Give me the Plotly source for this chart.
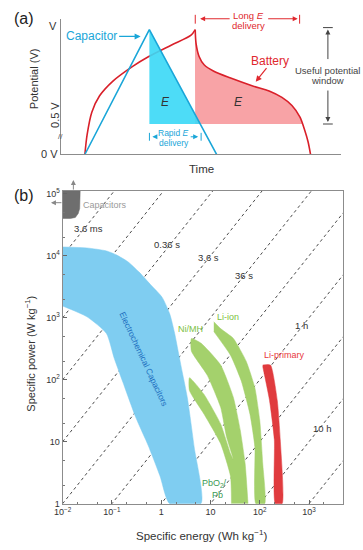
import plotly.graph_objects as go

W, H = 363, 550
FONT = "Arial, Liberation Sans, sans-serif"

# ---------------- Panel (a) data (arbitrary time units, potential fraction of V) ----------------
cap_t = [8.0, 31.2, 55.4]
cap_v = [0.0, 1.0, 0.0]
capfill_t = [31.2, 31.2, 49.5]
capfill_v = [1.0, 0.244, 0.244]
bat_charge_t = [8.0, 8.8, 10.5, 13.3, 18.1, 25.2, 31.0, 39.2, 46.2, 47.7]
bat_charge_v = [0.0, 0.157, 0.339, 0.470, 0.588, 0.706, 0.785, 0.877, 0.955, 1.0]
bat_dis_t = [47.7, 48.0, 49.1, 50.9, 54.4, 60.2, 68.4, 74.3, 78.9, 82.5, 85.4, 87.1, 88.3, 89.2]
bat_dis_v = [1.0, 0.89, 0.785, 0.719, 0.667, 0.614, 0.549, 0.509, 0.457, 0.392, 0.299, 0.194, 0.102, 0.0]
batfill_t = [47.7, 47.7, 48.0, 49.1, 50.9, 54.4, 60.2, 68.4, 74.3, 78.9, 82.5, 85.4, 86.3]
batfill_v = [0.244, 1.0, 0.89, 0.785, 0.719, 0.667, 0.614, 0.549, 0.509, 0.457, 0.392, 0.299, 0.244]

# ---------------- Panel (b) data (Wh/kg, W/kg) ----------------
iso_time_h = [1e-6, 1e-5, 1e-4, 1e-3, 1e-2, 1e-1, 1, 10, 100, 1000]
iso_E_span = [0.01, 5012]

capacitors_E = [0.01, 0.01, 0.0227, 0.0227, 0.0222, 0.0207, 0.0181, 0.0144, 0.01]
capacitors_P = [40100, 112000, 112000, 77400, 57800, 48200, 41600, 40100, 40100]

ec_cap_E = [0.01, 0.0312, 0.0775, 0.122, 0.211, 0.348, 0.601, 1.04, 1.49, 1.88, 2.25, 2.70, 3.39, 4.66, 6.4,
            1.49, 0.946, 0.548, 0.303, 0.168, 0.111, 0.0775, 0.0312, 0.01]
ec_cap_P = [13900, 13400, 12000, 10400, 8030, 5570, 3465, 2154, 1157, 557, 268, 129, 51.8, 8.3, 1,
            1, 2.8, 8.6, 25, 90, 224, 557, 1037, 1550]

nimh_pb_E = [26.7, 25.5, 16.1, 7.43, 3.75, 3.75, 7.43, 16.1, 25.5, 29.2, 21.2, 16.1, 8.53, 4.11, 4.11, 6.49,
             16.1, 29.2, 40.2, 50.5, 57.8]
nimh_pb_P = [1, 2.78, 9.3, 27.8, 66.9, 108, 57.8, 19.3, 6.45, 5.18, 12.0, 35.9, 120, 289, 464, 387,
             173, 51.8, 15.5, 4.48, 1]

liion_E = [11.7, 16.1, 29.2, 52.9, 79.6, 100, 115, 126, 83.4, 79.6, 63.4, 42.1, 25.5, 11.7]
liion_P = [864, 669, 464, 200, 74.6, 22.4, 4.48, 1, 1, 8.3, 27.8, 96.4, 249, 600]

liprim_E = [115, 165, 227, 261, 285, 207, 198, 158, 115]
liprim_P = [173, 173, 46.4, 10.8, 1, 1, 10.8, 46.4, 164]

x_tickvals = [0.01, 0.1, 1, 10, 100, 1000]
x_ticktext = ["10<sup>−2</sup>", "10<sup>−1</sup>", "1", "10", "10<sup>2</sup>", "10<sup>3</sup>"]
y_tickvals = [1, 10, 100, 1000, 10000, 100000]
y_ticktext = ["1", "10", "10<sup>2</sup>", "10<sup>3</sup>", "10<sup>4</sup>", "10<sup>5</sup>"]


def px(x):
    return x / W


def py(y):
    return 1 - y / H


BLUE_LINE = "#1aa6d8"
CYAN_FILL = "rgba(58,216,246,0.9)"
RED = "#d9202a"
PINK = "#f8a3a6"
SKY = "#7fcdf1"
GREEN = "#a4d16c"
LIRED = "#e03b3e"

fig = go.Figure()

# Panel (a)
fig.add_trace(go.Scatter(x=batfill_t, y=batfill_v, fill="toself", fillcolor=PINK, mode="none",
                         line=dict(shape="spline", smoothing=0.8),
                         xaxis="x", yaxis="y", hoverinfo="skip"))
fig.add_trace(go.Scatter(x=bat_charge_t, y=bat_charge_v, mode="lines",
                         line=dict(color=RED, width=1.6, shape="spline", smoothing=0.8),
                         xaxis="x", yaxis="y", hoverinfo="skip"))
fig.add_trace(go.Scatter(x=bat_dis_t, y=bat_dis_v, mode="lines",
                         line=dict(color=RED, width=1.6, shape="spline", smoothing=0.8),
                         xaxis="x", yaxis="y", hoverinfo="skip"))
fig.add_trace(go.Scatter(x=capfill_t, y=capfill_v, fill="toself", fillcolor=CYAN_FILL, mode="none",
                         xaxis="x", yaxis="y", hoverinfo="skip"))
fig.add_trace(go.Scatter(x=cap_t, y=cap_v, mode="lines", line=dict(color=BLUE_LINE, width=1.6),
                         xaxis="x", yaxis="y", hoverinfo="skip"))

# Panel (b)
for t in iso_time_h:
    fig.add_trace(go.Scatter(x=iso_E_span, y=[e / t for e in iso_E_span], mode="lines",
                             line=dict(color="#4a4a4a", width=1, dash="3px,3px"),
                             xaxis="x2", yaxis="y2", hoverinfo="skip"))
for xs, ys, col, sm in [(ec_cap_E, ec_cap_P, SKY, 0.6), (capacitors_E, capacitors_P, "#6e6e6e", 0),
                        (nimh_pb_E, nimh_pb_P, GREEN, 0.5), (liion_E, liion_P, GREEN, 0.5),
                        (liprim_E, liprim_P, LIRED, 0.5)]:
    ln = dict(color=col, width=0.5)
    if sm:
        ln.update(shape="spline", smoothing=sm)
    fig.add_trace(go.Scatter(x=xs, y=ys, fill="toself", fillcolor=col, mode="lines",
                             line=ln, xaxis="x2", yaxis="y2", hoverinfo="skip"))

axcol = "#8c8c8c"
fig.update_layout(
    width=W, height=H, margin=dict(l=0, r=0, t=0, b=0),
    paper_bgcolor="white", plot_bgcolor="white", showlegend=False,
    font=dict(family=FONT, color="#333"),
    xaxis=dict(domain=[px(53), px(340)], range=[-0.70, 100.0], anchor="y",
               showline=True, linecolor=axcol, linewidth=1, showticklabels=False, ticks="",
               showgrid=False, zeroline=False, fixedrange=True),
    yaxis=dict(domain=[py(153), py(15)], range=[0, 1.087], anchor="x",
               showline=True, linecolor=axcol, linewidth=1, showticklabels=False, ticks="",
               showgrid=False, zeroline=False, fixedrange=True),
    xaxis2=dict(type="log", domain=[px(55), px(343)], range=[-2, 3.7], anchor="y2",
                showline=True, linecolor=axcol, linewidth=1, mirror=True,
                ticks="inside", ticklen=4, tickcolor="#666",
                tickvals=x_tickvals, ticktext=x_ticktext, tickfont=dict(size=9, color="#333"),
                showgrid=False, zeroline=False,
                minor=dict(ticks="inside", ticklen=2, tickcolor="#777", showgrid=False)),
    yaxis2=dict(type="log", domain=[py(508), py(190)], range=[0, 5.048], anchor="x2",
                showline=True, linecolor=axcol, linewidth=1, mirror=True,
                ticks="inside", ticklen=4, tickcolor="#666",
                tickvals=y_tickvals, ticktext=y_ticktext, tickfont=dict(size=9, color="#333"),
                showgrid=False, zeroline=False,
                minor=dict(ticks="inside", ticklen=2, tickcolor="#777", showgrid=False)),
)

ann = []


def txt(x, y, s, size=10, color="#333", angle=0, xanchor="center"):
    ann.append(dict(x=px(x), y=py(y), xref="paper", yref="paper", text=s, showarrow=False,
                    font=dict(size=size, color=color, family=FONT), textangle=angle,
                    xanchor=xanchor, yanchor="middle"))


def arrow(hx, hy, tx, ty, color, width=1.2):
    ann.append(dict(x=px(hx), y=py(hy), xref="paper", yref="paper", text="", showarrow=True,
                    ax=tx - hx, ay=ty - hy, axref="pixel", ayref="pixel",
                    arrowhead=2, arrowsize=1, arrowwidth=width, arrowcolor=color))


shapes = []


def seg(x0, y0, x1, y1, color, width=1):
    shapes.append(dict(type="line", xref="paper", yref="paper", x0=px(x0), y0=py(y0),
                       x1=px(x1), y1=py(y1), line=dict(color=color, width=width)))


# Panel (a) texts
txt(15, 15, "(a)", 16, "#222")
txt(45, 22, "V", 11)
txt(47, 113, "0.5 V", 11, angle=-90)
txt(42, 153, "0 V", 11)
txt(53, 135, "//", 8, "#555")
txt(25, 76, "Potential (V)", 11, angle=-90)
txt(197, 168, "Time", 11.5)
txt(85, 33, "Capacitor", 12, BLUE_LINE)
arrow(135, 33, 112, 33, BLUE_LINE)
txt(268, 58, "Battery", 12, "#e0282e")
arrow(253, 79, 265, 64, "#e0282e")
txt(160, 100, "<i>E</i>", 12, "#333")
txt(235, 100, "<i>E</i>", 12, "#333")
txt(246, 11.5, "Long <i>E</i>", 9.5, "#e0282e")
txt(246, 22, "delivery", 9.5, "#e0282e")
arrow(196, 15, 227, 15, "#e0282e", 1)
arrow(296, 15, 265, 15, "#e0282e", 1)
seg(191, 11, 191, 20, "#e0282e")
seg(298, 11, 298, 20, "#e0282e")
txt(169, 131, "Rapid <i>E</i>", 8.5, BLUE_LINE)
txt(169, 141, "delivery", 8.5, BLUE_LINE)
arrow(147, 135, 153, 135, BLUE_LINE, 1)
arrow(194, 135, 185, 135, BLUE_LINE, 1)
seg(144, 131, 144, 139, BLUE_LINE)
seg(197, 131, 197, 139, BLUE_LINE)
txt(327, 68, "Useful potential", 9.5, "#444")
txt(327, 78, "window", 9.5, "#444")
arrow(327, 26, 327, 57, "#444", 1)
arrow(327, 120, 327, 87, "#444", 1)
seg(322, 24, 332, 24, "#444")
seg(322, 122, 332, 122, "#444")

# Panel (b) texts
txt(15, 195, "(b)", 16, "#222")
txt(22, 355, "Specific power (W kg<sup>−1</sup>)", 11, "#333", angle=-90)
txt(197, 540, "Specific energy (Wh kg<sup>−1</sup>)", 11.5, "#333")
txt(98, 204, "Capacitors", 9, "#9a9a9a")
arrow(66, 179, 66, 190, "#888", 1)
arrow(43, 202, 55, 202, "#888", 1)
txt(82, 228, "3.6 ms", 9.5)
txt(162, 245, "0.36 s", 9.5)
txt(205, 258, "3.6 s", 9.5)
txt(241, 276, "36 s", 9.5)
txt(300, 327, "1 h", 9.5)
txt(321, 432, "10 h", 9.5)
txt(138, 361, "Electrochemical Capacitors", 8.5, "#1e6fc0", angle=65)
txt(186, 330, "Ni/MH", 9, "#7cbf3f")
txt(225, 318, "Li-ion", 9, "#7cbf3f")
txt(282, 357, "Li-primary", 9, "#e8383d")
txt(211, 487, "PbO<sub>2</sub>/", 9, "#3c9b55")
txt(214, 499, "Pb", 9, "#3c9b55")

fig.update_layout(annotations=ann, shapes=shapes)
fig.write_html("out.html", config={"displayModeBar": False},
               post_script="document.body.style.margin='0';document.body.style.overflow='hidden';")
